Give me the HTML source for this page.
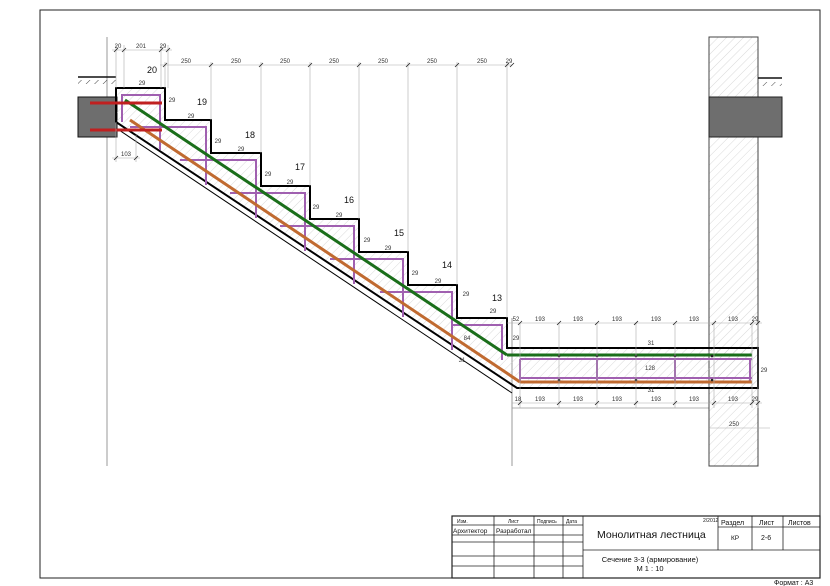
<!DOCTYPE html>
<html><head><meta charset="utf-8"><style>
html,body{margin:0;padding:0;background:#fff}
svg{display:block;font-family:"Liberation Sans",sans-serif}
.d{font-size:6px;fill:#333;text-anchor:middle}
.n{font-size:9px;fill:#111;text-anchor:middle}
.t{font-family:"Liberation Sans","Noto Sans CJK SC",sans-serif}
</style></head><body>
<svg width="830" height="586" viewBox="0 0 830 586" xmlns="http://www.w3.org/2000/svg">
<defs>
<pattern id="h" width="6" height="6" patternUnits="userSpaceOnUse" patternTransform="rotate(45)">
<line x1="0" y1="0" x2="0" y2="6" stroke="#c8c8c8" stroke-width="0.7"/></pattern>
<pattern id="h2" width="6" height="6" patternUnits="userSpaceOnUse" patternTransform="rotate(45)">
<line x1="0" y1="0" x2="0" y2="6" stroke="#333" stroke-width="0.9"/></pattern>
</defs>
<rect width="830" height="586" fill="#fff"/>
<!-- frame -->
<rect x="40" y="10" width="780" height="568" fill="none" stroke="#222" stroke-width="1"/>
<!-- grid lines -->
<line x1="107" y1="37" x2="107" y2="466" stroke="#999" stroke-width="1"/>
<line x1="512" y1="318" x2="512" y2="466" stroke="#999" stroke-width="1"/>
<line x1="512" y1="408" x2="709" y2="408" stroke="#999" stroke-width="0.8"/>
<!-- right wall -->
<rect x="709" y="37" width="49" height="429" fill="url(#h)" stroke="#444" stroke-width="1"/>
<rect x="709" y="97" width="73" height="40" fill="#6e6e6e" stroke="#222"/>
<line x1="758" y1="78" x2="782" y2="78" stroke="#111" stroke-width="1.5"/>
<rect x="758" y="82" width="24" height="4" fill="url(#h2)"/>
<!-- left slab -->
<line x1="78" y1="77" x2="116" y2="77" stroke="#111" stroke-width="1.5"/>
<rect x="78" y="80" width="38" height="4" fill="url(#h2)"/>
<rect x="78" y="97" width="39" height="40" fill="#6e6e6e" stroke="#111"/>
<!-- stair concrete -->
<polygon points="116,88 165,88 165,120 211,120 211,153 261,153 261,186 310,186 310,219 359,219 359,252 408,252 408,285 457,285 457,318 507,318 507,348 758,348 758,388 517,388 116,122" fill="url(#h)" stroke="#000" stroke-width="2"/>
<line x1="116" y1="128" x2="512" y2="393" stroke="#000" stroke-width="1"/>
<!-- purple stirrups -->
<g stroke="#a060b0" stroke-width="2" fill="none">
<polyline points="122,122 122,95 160,95 160,150"/>
<polyline points="160,127 206,127 206,185"/>
<polyline points="206,160 256,160 256,218"/>
<polyline points="256,193 305,193 305,251"/>
<polyline points="305,226 354,226 354,284"/>
<polyline points="354,259 403,259 403,317"/>
<polyline points="403,292 452,292 452,350"/>
<polyline points="452,325 502,325 502,360"/>
<line x1="130" y1="127" x2="185" y2="127"/>
<line x1="180" y1="160" x2="235" y2="160"/>
<line x1="230" y1="193" x2="285" y2="193"/>
<line x1="280" y1="226" x2="335" y2="226"/>
<line x1="330" y1="259" x2="385" y2="259"/>
<line x1="380" y1="292" x2="435" y2="292"/>
<line x1="520" y1="359" x2="752" y2="359"/>
<line x1="520" y1="378" x2="752" y2="378"/>
<line x1="520" y1="359" x2="520" y2="382"/>
<line x1="597" y1="359" x2="597" y2="382"/>
<line x1="675" y1="359" x2="675" y2="382"/>
<line x1="750" y1="359" x2="750" y2="382"/>
</g>
<!-- bars -->
<line x1="130" y1="120" x2="520" y2="382" stroke="#c06a30" stroke-width="3"/>
<line x1="520" y1="382" x2="752" y2="382" stroke="#c06a30" stroke-width="3"/>
<line x1="125" y1="100" x2="507" y2="355" stroke="#1a6e1a" stroke-width="3"/>
<line x1="507" y1="355" x2="752" y2="355" stroke="#1a6e1a" stroke-width="3"/>
<line x1="90" y1="103" x2="162" y2="103" stroke="#c02020" stroke-width="3"/>
<line x1="90" y1="130" x2="162" y2="130" stroke="#c02020" stroke-width="3"/>
<g fill="#222"><circle cx="559" cy="356" r="1.3"/><circle cx="597" cy="356" r="1.3"/><circle cx="636" cy="356" r="1.3"/><circle cx="675" cy="356" r="1.3"/><circle cx="712" cy="356" r="1.3"/><circle cx="559" cy="380" r="1.3"/><circle cx="636" cy="380" r="1.3"/><circle cx="712" cy="380" r="1.3"/></g>
<!-- extension lines -->
<g stroke="#aaa" stroke-width="0.6">
<line x1="116" y1="45" x2="116" y2="88"/><line x1="124" y1="45" x2="124" y2="88"/>
<line x1="161" y1="45" x2="161" y2="88"/><line x1="168" y1="45" x2="168" y2="88"/>
<line x1="165" y1="62" x2="165" y2="88"/><line x1="211" y1="62" x2="211" y2="120"/>
<line x1="261" y1="62" x2="261" y2="153"/><line x1="310" y1="62" x2="310" y2="186"/>
<line x1="359" y1="62" x2="359" y2="219"/><line x1="408" y1="62" x2="408" y2="252"/>
<line x1="457" y1="62" x2="457" y2="285"/><line x1="507" y1="62" x2="507" y2="318"/>
<line x1="116" y1="122" x2="116" y2="162"/><line x1="136" y1="135" x2="136" y2="162"/>
<line x1="559" y1="323" x2="559" y2="408"/><line x1="597" y1="323" x2="597" y2="408"/>
<line x1="636" y1="323" x2="636" y2="408"/><line x1="675" y1="323" x2="675" y2="408"/>
<line x1="714" y1="323" x2="714" y2="408"/><line x1="752" y1="323" x2="752" y2="408"/>
<line x1="758" y1="323" x2="758" y2="408"/><line x1="520" y1="323" x2="520" y2="408"/>
<line x1="709" y1="428" x2="770" y2="428"/>
<!-- dim lines -->
<line x1="112" y1="50" x2="172" y2="50"/>
<line x1="160" y1="65" x2="512" y2="65"/>
<line x1="112" y1="158" x2="140" y2="158"/>
<line x1="507" y1="323" x2="762" y2="323"/>
<line x1="512" y1="403" x2="762" y2="403"/>
</g>
<g stroke="#222" stroke-width="0.8">
<line x1="114" y1="52" x2="118" y2="48"/><line x1="122" y1="52" x2="126" y2="48"/><line x1="159" y1="52" x2="163" y2="48"/><line x1="166" y1="52" x2="170" y2="48"/>
<line x1="163" y1="67" x2="167" y2="63"/><line x1="209" y1="67" x2="213" y2="63"/><line x1="259" y1="67" x2="263" y2="63"/><line x1="308" y1="67" x2="312" y2="63"/><line x1="357" y1="67" x2="361" y2="63"/><line x1="406" y1="67" x2="410" y2="63"/><line x1="455" y1="67" x2="459" y2="63"/><line x1="505" y1="67" x2="509" y2="63"/><line x1="510" y1="67" x2="514" y2="63"/>
<line x1="114" y1="160" x2="118" y2="156"/><line x1="134" y1="160" x2="138" y2="156"/>
<line x1="518" y1="325" x2="522" y2="321"/><line x1="557" y1="325" x2="561" y2="321"/><line x1="595" y1="325" x2="599" y2="321"/><line x1="634" y1="325" x2="638" y2="321"/><line x1="673" y1="325" x2="677" y2="321"/><line x1="712" y1="325" x2="716" y2="321"/><line x1="750" y1="325" x2="754" y2="321"/><line x1="756" y1="325" x2="760" y2="321"/>
<line x1="518" y1="405" x2="522" y2="401"/><line x1="557" y1="405" x2="561" y2="401"/><line x1="595" y1="405" x2="599" y2="401"/><line x1="634" y1="405" x2="638" y2="401"/><line x1="673" y1="405" x2="677" y2="401"/><line x1="712" y1="405" x2="716" y2="401"/><line x1="750" y1="405" x2="754" y2="401"/><line x1="756" y1="405" x2="760" y2="401"/>
</g>
<!-- dim texts -->
<g class="d">
<text x="118" y="48">20</text><text x="141" y="48">201</text><text x="163" y="48">29</text>
<text x="186" y="63">250</text><text x="236" y="63">250</text><text x="285" y="63">250</text><text x="334" y="63">250</text><text x="383" y="63">250</text><text x="432" y="63">250</text><text x="482" y="63">250</text><text x="509" y="63">29</text>
<text x="126" y="156">103</text>
<text x="516" y="321">52</text><text x="540" y="321">193</text><text x="578" y="321">193</text><text x="617" y="321">193</text><text x="656" y="321">193</text><text x="694" y="321">193</text><text x="733" y="321">193</text><text x="755" y="321">29</text>
<text x="518" y="401">18</text><text x="540" y="401">193</text><text x="578" y="401">193</text><text x="617" y="401">193</text><text x="656" y="401">193</text><text x="694" y="401">193</text><text x="733" y="401">193</text><text x="755" y="401">29</text>
<text x="734" y="426">250</text>
<text x="172" y="102">29</text><text x="218" y="143">29</text><text x="268" y="176">29</text><text x="316" y="209">29</text><text x="367" y="242">29</text><text x="415" y="275">29</text><text x="466" y="296">29</text><text x="516" y="340">29</text>
<text x="142" y="85">29</text><text x="191" y="118">29</text><text x="241" y="151">29</text><text x="290" y="184">29</text><text x="339" y="217">29</text><text x="388" y="250">29</text><text x="438" y="283">29</text><text x="493" y="313">29</text>
<text x="764" y="372">29</text><text x="651" y="345">31</text><text x="651" y="392">31</text><text x="650" y="370">128</text><text x="467" y="340">84</text><text x="462" y="362">31</text>
</g>
<g class="n">
<text x="152" y="73">20</text><text x="202" y="105">19</text><text x="250" y="138">18</text><text x="300" y="170">17</text><text x="349" y="203">16</text><text x="399" y="236">15</text><text x="447" y="268">14</text><text x="497" y="301">13</text>
</g>
<!-- title block -->
<g stroke="#222" stroke-width="0.8" fill="none">
<rect x="452" y="516" width="368" height="62" stroke-width="1.2"/>
<line x1="494" y1="516" x2="494" y2="578"/><line x1="534" y1="516" x2="534" y2="578"/><line x1="563" y1="516" x2="563" y2="578"/><line x1="583" y1="516" x2="583" y2="578"/>
<line x1="452" y1="525" x2="583" y2="525"/><line x1="452" y1="535" x2="583" y2="535"/><line x1="452" y1="542" x2="583" y2="542"/><line x1="452" y1="556" x2="583" y2="556"/><line x1="452" y1="566" x2="583" y2="566"/>
<line x1="583" y1="550" x2="820" y2="550"/>
<line x1="718" y1="516" x2="718" y2="550"/><line x1="752" y1="516" x2="752" y2="550"/><line x1="783" y1="516" x2="783" y2="550"/>
<line x1="718" y1="527" x2="820" y2="527"/>
</g>
<g class="t" fill="#111">
<text x="457" y="523" font-size="5">Изм.</text><text x="508" y="523" font-size="5">Лист</text><text x="537" y="523" font-size="5">Подпись</text><text x="566" y="523" font-size="5">Дата</text>
<text x="453" y="533" font-size="6.5">Архитектор</text><text x="496" y="533" font-size="6.5">Разработал</text>
<text x="703" y="522" font-size="5">2/2012</text>
<text x="597" y="538" font-size="10.5">Монолитная лестница</text>
<text x="721" y="525" font-size="7">Раздел</text><text x="759" y="525" font-size="7">Лист</text><text x="788" y="525" font-size="7">Листов</text>
<text x="731" y="540" font-size="6.5">КР</text><text x="761" y="540" font-size="7">2-6</text>
<text x="650" y="562" font-size="7.5" text-anchor="middle">Сечение 3-3 (армирование)</text>
<text x="650" y="571" font-size="7.5" text-anchor="middle">М  1 : 10</text>
<text x="774" y="585" font-size="7">Формат : А3</text>
</g>
</svg>
</body></html>
